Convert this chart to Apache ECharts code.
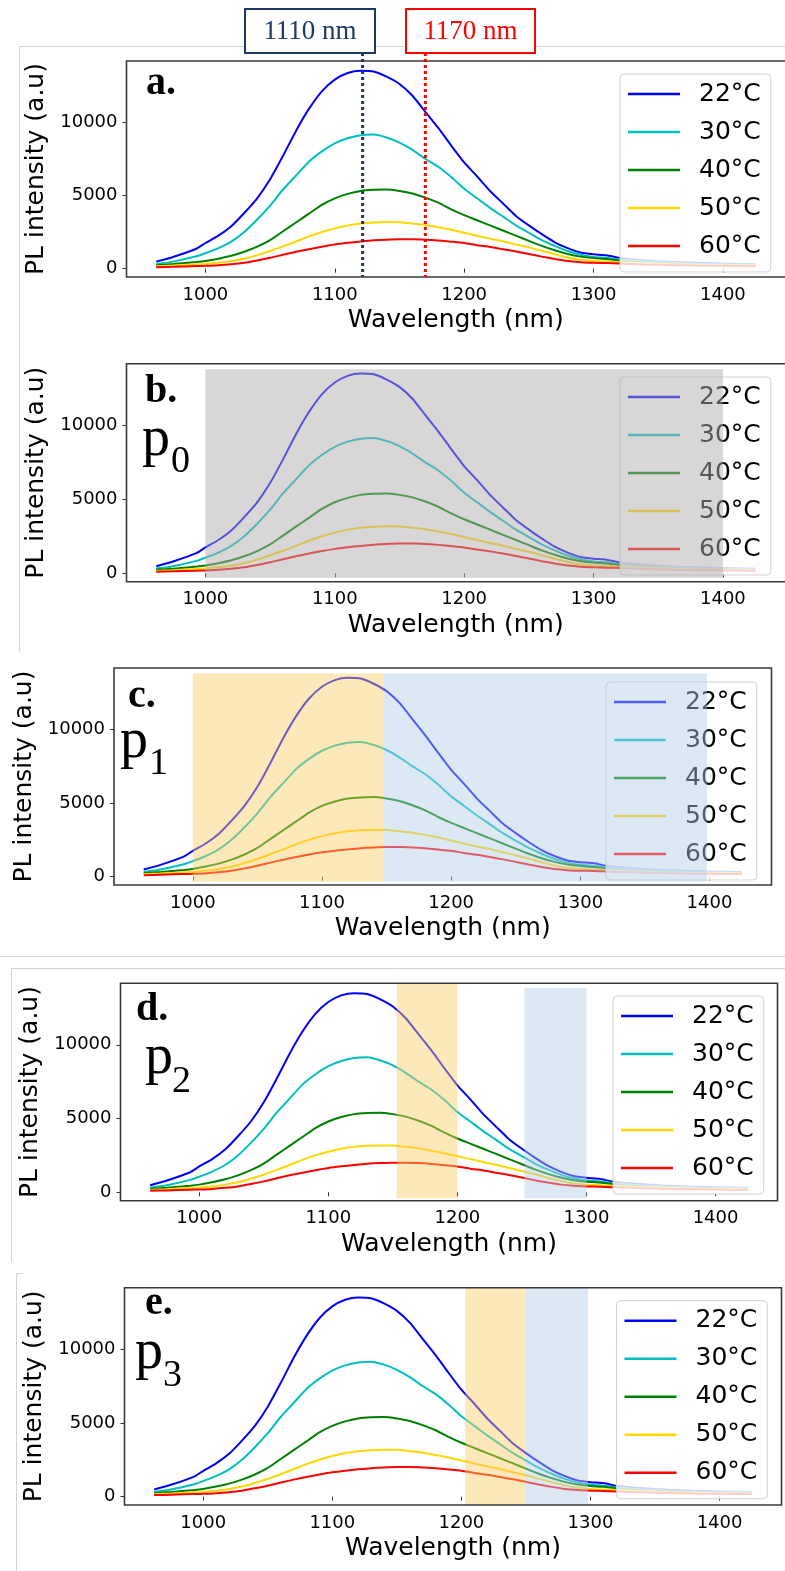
<!DOCTYPE html>
<html>
<head>
<meta charset="utf-8">
<script src="https://cdn.jsdelivr.net/npm/echarts@6/dist/echarts.min.js"></script>
<style>
html,body{margin:0;padding:0;background:#fff;}
#c{width:785px;height:1571px;}
</style>
</head>
<body>
<div id="c"></div>
<script>
// ---------- data ----------
const wavelengths = [962, 975, 993, 1000, 1010, 1020, 1030, 1040, 1050, 1060, 1070, 1080, 1090, 1100, 1110, 1120, 1130, 1140, 1150, 1160, 1170, 1180, 1190, 1200, 1210, 1220, 1230, 1240, 1250, 1260, 1270, 1280, 1290, 1300, 1310, 1320, 1340, 1360, 1380, 1400, 1425];
const t22 = [480, 800, 1360, 1750, 2250, 2900, 3800, 4800, 6100, 7700, 9400, 10900, 12100, 12900, 13350, 13500, 13450, 13100, 12600, 11800, 10700, 9600, 8400, 7250, 6300, 5300, 4450, 3600, 2950, 2350, 1800, 1400, 1100, 980, 920, 730, 560, 460, 400, 350, 300];
const t30 = [320, 480, 840, 1050, 1400, 1850, 2500, 3350, 4300, 5400, 6350, 7300, 8000, 8550, 8900, 9100, 9150, 8950, 8600, 8100, 7500, 6950, 6250, 5450, 4800, 4150, 3550, 2950, 2450, 1950, 1550, 1200, 950, 800, 740, 620, 480, 400, 340, 300, 270];
const t40 = [230, 310, 450, 520, 680, 880, 1150, 1500, 1950, 2550, 3150, 3750, 4350, 4800, 5100, 5300, 5380, 5400, 5300, 5130, 4850, 4500, 4050, 3650, 3300, 2950, 2600, 2250, 1900, 1550, 1250, 1000, 820, 720, 660, 560, 420, 340, 280, 250, 220];
const t50 = [160, 210, 290, 320, 400, 520, 680, 920, 1200, 1520, 1850, 2200, 2500, 2750, 2950, 3080, 3150, 3180, 3170, 3080, 2980, 2820, 2650, 2450, 2250, 2050, 1870, 1650, 1450, 1220, 980, 760, 600, 520, 480, 440, 360, 300, 260, 230, 210];
const t60 = [100, 130, 175, 190, 230, 300, 400, 560, 740, 950, 1150, 1330, 1500, 1650, 1760, 1850, 1930, 1980, 2010, 2010, 1980, 1920, 1840, 1750, 1600, 1480, 1330, 1170, 1000, 820, 660, 520, 440, 400, 380, 350, 290, 240, 210, 190, 170];
const seriesNames = ['22°C', '30°C', '40°C', '50°C', '60°C'];
const seriesValues = [t22, t30, t40, t50, t60];
const xTicks = [1000, 1100, 1200, 1300, 1400];
const yTicks = [0, 5000, 10000];
const markerLines = [1121.5, 1170];          // dotted lines in panel a (nm)
const markerLabels = ['1110 nm', '1170 nm'];
const panelLetters = ['a.', 'b.', 'c.', 'd.', 'e.'];
const panelSubs = [null, '0', '1', '2', '3'];
// shaded bands per panel: [from nm, to nm, low, high, kind]
const shades = [
  [],
  [[1000, 1400, -300, 13800, 'gray']],
  [[1000, 1148, -330, 13800, 'orange'], [1148, 1398, -330, 13800, 'blue']],
  [[1153, 1200, -400, 14170, 'orange'], [1252, 1300, -400, 13850, 'blue']],
  [[1203, 1250, -570, 14150, 'orange'], [1250, 1298, -570, 14150, 'blue']]
];

// ---------- styles / layout ----------
const colors = ['#0000ff', '#00bfbf', '#008000', '#ffd700', '#ff0000'];
const shadeColors = {gray: 'rgba(175,172,174,0.49)', orange: 'rgba(250,205,100,0.45)', blue: 'rgba(180,205,232,0.45)'};
const grids = [
  {left: 126.5, top: 61, width: 660, height: 216},
  {left: 126.5, top: 363.7, width: 660, height: 218},
  {left: 114, top: 668, width: 657.5, height: 217},
  {left: 120.5, top: 983.3, width: 657, height: 217.4},
  {left: 124.5, top: 1287.7, width: 657, height: 217.3}
];
const legendPos = [[620, 74], [620, 377], [606, 682], [613, 996], [616.5, 1300.7]];
const letterPos = [[146, 84], [145, 392], [128, 697], [136, 1010], [145, 1304]];
const pPos = [null, [[142, 440], [171, 462]], [[120, 742], [149, 764]], [[145, 1058], [172, 1082]], [[135, 1353], [163, 1376]]];
const FONT = 'DejaVu Sans';
const SERIF = 'Liberation Serif';

const chart = echarts.init(document.getElementById('c'), null, {renderer: 'canvas'});

const plain = v => String(v);
const xAxes = [], yAxes = [], series = [], legends = [];
grids.forEach((g, k) => {
  xAxes.push({
    type: 'value', gridIndex: k, min: 939, max: 1448,
    axisLine: {show: false},
    splitLine: {show: false},
    axisTick: {show: true, customValues: xTicks, length: 4, lineStyle: {color: '#333', width: 1}},
    axisLabel: {customValues: xTicks, formatter: plain, fontSize: 18, color: '#000', fontFamily: FONT, margin: 9},
    name: 'Wavelength (nm)', nameLocation: 'middle', nameGap: 31,
    nameTextStyle: {fontSize: 25, color: '#000', fontFamily: FONT}
  });
  yAxes.push({
    type: 'value', gridIndex: k, min: -570, max: 14170,
    axisLine: {show: false},
    splitLine: {show: false},
    axisTick: {show: true, customValues: yTicks, length: 4, lineStyle: {color: '#333', width: 1}},
    axisLabel: {customValues: yTicks, formatter: plain, fontSize: 18, color: '#000', fontFamily: FONT, margin: 9},
    name: 'PL intensity (a.u)', nameLocation: 'middle', nameGap: 70,
    nameTextStyle: {fontSize: 25, color: '#000', fontFamily: FONT}
  });
  seriesNames.forEach((nm, i) => {
    series.push({
      type: 'line', name: nm, xAxisIndex: k, yAxisIndex: k,
      data: wavelengths.map((w, j) => [w, seriesValues[i][j]]),
      showSymbol: false, smooth: 0.2, z: 2,
      color: colors[i],
      lineStyle: {width: 2, color: colors[i]},
      emphasis: {disabled: true}, silent: true, animation: false
    });
  });
  if (shades[k].length) {
    series.push({
      type: 'line', name: 'shade' + k, xAxisIndex: k, yAxisIndex: k, data: [],
      z: 10, silent: true, animation: false,
      markArea: {
        silent: true, animation: false, z: 10,
        data: shades[k].map(s => [
          {coord: [s[0], s[2]], itemStyle: {color: shadeColors[s[4]], borderWidth: 0}},
          {coord: [s[1], s[3]]}
        ])
      }
    });
  }
  legends.push({
    orient: 'vertical', left: legendPos[k][0], top: legendPos[k][1],
    data: seriesNames, icon: 'rect', itemWidth: 52, itemHeight: 2.5, itemGap: 8,
    padding: [5, 10, 11, 8],
    backgroundColor: 'rgba(255,255,255,0.8)', borderColor: '#d0d0d0', borderWidth: 1, borderRadius: 4,
    textStyle: {fontSize: 25, color: '#000', fontFamily: FONT, lineHeight: 30, padding: [0, 0, 0, 14]},
    selectedMode: false, z: 4
  });
});

const graphics = [];
// screenshot frame lines
const frameStyle = {stroke: '#d4d4d4', lineWidth: 1, fill: null};
graphics.push({type: 'polyline', shape: {points: [[785, 46.5], [19.5, 46.5], [19.5, 652]]}, style: frameStyle, silent: true});
graphics.push({type: 'line', shape: {x1: 0, y1: 956.5, x2: 785, y2: 956.5}, style: frameStyle, silent: true});
graphics.push({type: 'polyline', shape: {points: [[785, 968.5], [11.5, 968.5], [11.5, 1262]]}, style: frameStyle, silent: true});
graphics.push({type: 'polyline', shape: {points: [[22, 1273.5], [16.5, 1273.5], [16.5, 1571]]}, style: frameStyle, silent: true});
// grid frames
grids.forEach(g => {
  graphics.push({type: 'rect', shape: {x: g.left, y: g.top, width: g.width, height: g.height},
    style: {fill: null, stroke: '#3a3a3a', lineWidth: 1.6}, z: 20, silent: true});
});
// panel letters
panelLetters.forEach((t, k) => {
  graphics.push({type: 'text', x: letterPos[k][0], y: letterPos[k][1], z: 30, silent: true,
    style: {text: t, fontFamily: SERIF, fontWeight: 'bold', fontSize: 40, fill: '#000', verticalAlign: 'middle', align: 'left'}});
  if (panelSubs[k] !== null) {
    graphics.push({type: 'text', x: pPos[k][0][0], y: pPos[k][0][1], z: 30, silent: true,
      style: {text: 'p', fontFamily: SERIF, fontSize: 56, fill: '#000', verticalAlign: 'middle', align: 'left'}});
    graphics.push({type: 'text', x: pPos[k][1][0], y: pPos[k][1][1], z: 30, silent: true,
      style: {text: panelSubs[k], fontFamily: SERIF, fontSize: 38, fill: '#000', verticalAlign: 'middle', align: 'left'}});
  }
});
// label boxes above panel a
const boxSpecs = [
  {x: 245, y: 9, w: 130, h: 44, color: '#1f3864'},
  {x: 406, y: 9, w: 129, h: 44, color: '#ff0000'}
];
boxSpecs.forEach((b, i) => {
  graphics.push({type: 'rect', shape: {x: b.x, y: b.y, width: b.w, height: b.h},
    style: {fill: '#fff', stroke: b.color, lineWidth: 2}, silent: true});
  graphics.push({type: 'text', x: b.x + b.w / 2, y: b.y + b.h / 2 + 1, silent: true,
    style: {text: markerLabels[i], fontFamily: SERIF, fontSize: 27, fill: b.color, align: 'center', verticalAlign: 'middle'}});
});

chart.setOption({
  animation: false,
  textStyle: {fontFamily: FONT},
  grid: grids.map(g => Object.assign({containLabel: false, show: false}, g)),
  xAxis: xAxes, yAxis: yAxes, legend: legends, series: series,
  graphic: graphics
});

// dotted marker lines in panel a, positioned via the axis scale
const lineColors = ['#1f3864', '#ff0000'];
const bottomY = grids[0].top + grids[0].height;
const extra = markerLines.map((w, i) => {
  const px = chart.convertToPixel({xAxisIndex: 0, yAxisIndex: 0}, [w, 0])[0];
  return {type: 'line', shape: {x1: px, y1: 53, x2: px, y2: bottomY}, z: 25, silent: true,
    style: {stroke: lineColors[i], lineWidth: 3, lineDash: [3, 3]}};
});
chart.setOption({graphic: graphics.concat(extra)});
</script>
</body>
</html>
